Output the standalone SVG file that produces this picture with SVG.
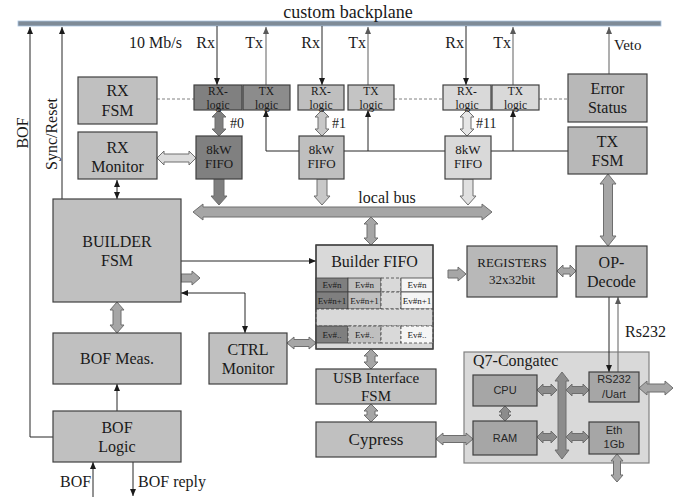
<svg xmlns="http://www.w3.org/2000/svg" width="683" height="497" viewBox="0 0 683 497">
<defs>
<style>
.bx{stroke:#404040;stroke-width:1.2}
.t{font-family:"Liberation Serif","Times New Roman",serif;fill:#1a1a1a;text-anchor:middle}
.s{font-family:"Liberation Sans",Arial,sans-serif;fill:#262626;text-anchor:middle;font-size:11px}
.ln{fill:none;stroke:#262626;stroke-width:1}
.lg{fill:none;stroke:#7a7a7a;stroke-width:1.2}
.dash{fill:none;stroke:#808080;stroke-width:1;stroke-dasharray:3,2}
.fat{stroke:#6e6e6e;stroke-width:1;stroke-linejoin:miter}
.g1{fill:#a6a6a6}
.cell{stroke:#404040;stroke-width:0.8}
.dc{stroke:#404040;stroke-width:0.8;stroke-dasharray:3,2}
.ev{font-family:"Liberation Serif","Times New Roman",serif;fill:#1a1a1a;text-anchor:middle;font-size:9px}
.lt{font-size:11.5px}
</style>
<marker id="ah" viewBox="0 0 7 7" refX="7" refY="3.5" markerWidth="7" markerHeight="7" markerUnits="userSpaceOnUse" orient="auto-start-reverse"><path d="M0,0.5 L7,3.5 L0,6.5z" fill="#1a1a1a"/></marker>
<marker id="ahg" viewBox="0 0 7 7" refX="7" refY="3.5" markerWidth="7" markerHeight="7" markerUnits="userSpaceOnUse" orient="auto-start-reverse"><path d="M0,0.5 L7,3.5 L0,6.5z" fill="#595959"/></marker>
</defs>
<rect width="683" height="497" fill="#ffffff"/>

<g id="backplane">
<rect x="18" y="21" width="643" height="5" fill="#7f8b97" stroke="#a9c4e0" stroke-width="0.8"/>
<text class="t" x="348" y="18" font-size="18">custom backplane</text>
</g>

<g id="q7-congatec">
<rect x="464" y="352" width="185" height="111" fill="#d9d9d9" stroke="#808080" stroke-width="1.2"/>
<text class="t" font-size="16" x="473" y="366" style="text-anchor:start">Q7-Congatec</text>
</g>

<g id="connectors">
<path class="ln" d="M53,437 H30 V27" marker-end="url(#ah)"/>
<path class="ln" d="M62,199 V27" marker-end="url(#ah)"/>
<path class="ln" d="M217,26 V85" marker-end="url(#ah)"/>
<path class="lg" d="M266,85 V27" marker-end="url(#ahg)"/>
<path class="ln" d="M322,26 V85" marker-end="url(#ah)"/>
<path class="lg" d="M368,85 V27" marker-end="url(#ahg)"/>
<path class="ln" d="M466,26 V85" marker-end="url(#ah)"/>
<path class="lg" d="M513,85 V27" marker-end="url(#ahg)"/>
<path class="lg" d="M609,74 V27" marker-end="url(#ahg)"/>
<path class="dash" d="M157,99 H194 M394,99 H443 M539,99 H568"/>
<path class="ln" d="M117,180 V199" marker-start="url(#ah)" marker-end="url(#ah)"/>
<path class="ln" d="M568,151 H266"/>
<path class="ln" d="M266,151 V110" marker-end="url(#ah)"/>
<path class="ln" d="M368,151 V110" marker-end="url(#ah)"/>
<path class="ln" d="M513,151 V110" marker-end="url(#ah)"/>
<path class="ln" d="M181,261 H316" marker-end="url(#ah)"/>
<path class="ln" d="M181,293 H245 V333" marker-start="url(#ah)" marker-end="url(#ah)"/>
<path class="ln" d="M117,411 V384" marker-end="url(#ah)"/>
<path class="ln" d="M93,497 V462" marker-end="url(#ah)"/>
<path class="ln" d="M133,462 V496" marker-end="url(#ah)"/>
<path class="ln" d="M609,297 V372" marker-end="url(#ah)"/>
<path class="lg" d="M618,372 V297" marker-end="url(#ahg)"/>

<polygon class="fat" fill="#dcdcdc" points="157,158 164,151 164,154 189,154 189,151 196,158 189,165 189,162 164,162 164,165"/>
<polygon class="fat" fill="#7f7f7f" points="219,110 226,117 223,117 223,129 226,129 219,136 212,129 215,129 215,117 212,117"/>
<polygon class="fat" fill="#c8c8c8" points="322,110 329,117 326,117 326,129 329,129 322,136 315,129 318,129 318,117 315,117"/>
<polygon class="fat" fill="#e6e6e6" points="467,110 474,117 471,117 471,129 474,129 467,136 460,129 463,129 463,117 460,117"/>
<polygon class="fat" fill="#7f7f7f" points="214,179 224,179 224,196 227,196 219,205 211,196 214,196"/>
<polygon class="fat" fill="#c8c8c8" points="317,179 327,179 327,196 330,196 322,205 314,196 317,196"/>
<polygon class="fat" fill="#e0e0e0" points="463,179 473,179 473,196 476,196 468,205 460,196 463,196"/>
<polygon class="fat g1" points="193,212 203,204 203,207 482,207 482,204 492,212 482,220 482,217 203,217 203,220"/>
<polygon class="fat g1" points="371,217 378,224 375,224 375,238 378,238 371,245 364,238 367,238 367,224 364,224"/>
<polygon class="fat g1" points="608,174 616,184 612.5,184 612.5,236 616,236 608,246 600,236 603.5,236 603.5,184 600,184"/>
<polygon class="fat g1" points="181,274 192,274 192,271 200,278 192,285 192,282 181,282"/>
<polygon class="fat g1" points="448,270 458,270 458,267 466,274 458,281 458,278 448,278"/>
<polygon class="fat g1" points="557,271 563,265 563,268 570,268 570,265 576,271 570,277 570,274 563,274 563,277"/>
<polygon class="fat g1" points="117,302 124,310 121,310 121,325 124,325 117,333 110,325 113,325 113,310 110,310"/>
<polygon class="fat g1" points="287,343 294,337 294,339.5 309,339.5 309,337 316,343 309,349 309,346.5 294,346.5 294,349"/>
<polygon class="fat g1" points="371,349 378,356 375,356 375,362 378,362 371,369 364,362 367,362 367,356 364,356"/>
<polygon class="fat g1" points="371,404 378,411 375,411 375,415 378,415 371,422 364,415 367,415 367,411 364,411"/>
<polygon class="fat g1" points="436,439 443,433 443,435.5 466,435.5 466,433 473,439 466,445 466,442.5 443,442.5 443,445"/>
<polygon class="fat" fill="#8c8c8c" points="505,406 511,412 508.5,412 508.5,415 511,415 505,421 499,415 501.5,415 501.5,412 499,412"/>
<polygon class="fat" fill="#8c8c8c" points="562,372 569,381 566,381 566,450 569,450 562,459 555,450 558,450 558,381 555,381"/>
<polygon class="fat" fill="#8c8c8c" points="537,390 543,384 543,386.5 551,386.5 551,384 557,390 551,396 551,393.5 543,393.5 543,396"/>
<polygon class="fat" fill="#8c8c8c" points="537,437 543,431 543,433.5 551,433.5 551,431 557,437 551,443 551,440.5 543,440.5 543,443"/>
<polygon class="fat" fill="#8c8c8c" points="566,390 572,384 572,386.5 583,386.5 583,384 589,390 583,396 583,393.5 572,393.5 572,396"/>
<polygon class="fat" fill="#8c8c8c" points="566,437 572,431 572,433.5 583,433.5 583,431 589,437 583,443 583,440.5 572,440.5 572,443"/>
<polygon class="fat g1" points="639,388 647,381 647,384 665,384 665,381 673,388 665,395 665,392 647,392 647,395"/>
<polygon class="fat g1" points="617,454 623,461 620.5,461 620.5,475 623,475 617,482 611,475 613.5,475 613.5,461 611,461"/>
</g>

<g id="labels">
<text class="t" font-size="16" transform="translate(27.5,133) rotate(-90)">BOF</text>
<text class="t" font-size="16" transform="translate(57,134) rotate(-90)">Sync/Reset</text>
<text class="t" font-size="16" x="129" y="48" style="text-anchor:start">10 Mb/s</text>
<text class="t" font-size="16" x="215" y="48" style="text-anchor:end">Rx</text>
<text class="t" font-size="16" x="263" y="48" style="text-anchor:end">Tx</text>
<text class="t" font-size="16" x="320" y="48" style="text-anchor:end">Rx</text>
<text class="t" font-size="16" x="366" y="48" style="text-anchor:end">Tx</text>
<text class="t" font-size="16" x="464" y="48" style="text-anchor:end">Rx</text>
<text class="t" font-size="16" x="511" y="48" style="text-anchor:end">Tx</text>
<text class="t" font-size="15" x="614" y="50" style="text-anchor:start">Veto</text>
<text class="t" font-size="14" x="230" y="128" style="text-anchor:start">#0</text>
<text class="t" font-size="14" x="332" y="128" style="text-anchor:start">#1</text>
<text class="t" font-size="14" x="476" y="128" style="text-anchor:start">#11</text>
<text class="t" font-size="16" x="387" y="203">local bus</text>
<text class="t" font-size="16" x="625" y="337" style="text-anchor:start">Rs232</text>
<text class="t" font-size="16" x="60" y="487" style="text-anchor:start">BOF</text>
<text class="t" font-size="16" x="138" y="487" style="text-anchor:start">BOF reply</text>
</g>

<g id="rx-fsm"><rect class="bx" x="78" y="77" width="79" height="47" fill="#c0c0c0"/><text class="t" font-size="16" x="117.5" y="96">RX</text><text class="t" font-size="16" x="117.5" y="116">FSM</text></g>
<g id="rx-monitor"><rect class="bx" x="78" y="132" width="79" height="47" fill="#c0c0c0"/><text class="t" font-size="16" x="117.5" y="153">RX</text><text class="t" font-size="16" x="117.5" y="172">Monitor</text></g>

<g id="rx-logic-0"><rect class="bx" x="194" y="85" width="48" height="25" fill="#808080"/><text class="t lt" x="218" y="95">RX-</text><text class="t lt" x="218" y="108.5">logic</text></g>
<g id="tx-logic-0"><rect class="bx" x="243" y="85" width="47" height="25" fill="#8c8c8c"/><text class="t lt" x="266.5" y="95">TX</text><text class="t lt" x="266.5" y="108.5">logic</text></g>
<g id="fifo-0"><rect class="bx" x="196" y="136" width="46" height="43" fill="#808080"/><text class="t" font-size="13" x="219" y="154">8kW</text><text class="t" font-size="13" x="219" y="168">FIFO</text></g>

<g id="rx-logic-1"><rect class="bx" x="298" y="85" width="46" height="25" fill="#bfbfbf"/><text class="t lt" x="321" y="95">RX-</text><text class="t lt" x="321" y="108.5">logic</text></g>
<g id="tx-logic-1"><rect class="bx" x="348" y="85" width="46" height="25" fill="#c4c4c4"/><text class="t lt" x="371" y="95">TX</text><text class="t lt" x="371" y="108.5">logic</text></g>
<g id="fifo-1"><rect class="bx" x="299" y="136" width="45" height="43" fill="#bfbfbf"/><text class="t" font-size="13" x="321.5" y="154">8kW</text><text class="t" font-size="13" x="321.5" y="168">FIFO</text></g>

<g id="rx-logic-11"><rect class="bx" x="443" y="85" width="48" height="25" fill="#d9d9d9"/><text class="t lt" x="467" y="95">RX-</text><text class="t lt" x="467" y="108.5">logic</text></g>
<g id="tx-logic-11"><rect class="bx" x="492" y="85" width="47" height="25" fill="#d9d9d9"/><text class="t lt" x="515.5" y="95">TX</text><text class="t lt" x="515.5" y="108.5">logic</text></g>
<g id="fifo-11"><rect class="bx" x="445" y="136" width="46" height="43" fill="#d9d9d9"/><text class="t" font-size="13" x="468" y="154">8kW</text><text class="t" font-size="13" x="468" y="168">FIFO</text></g>

<g id="error-status"><rect class="bx" x="568" y="74" width="79" height="48" fill="#b8b8b8"/><text class="t" font-size="16" x="607.5" y="94">Error</text><text class="t" font-size="16" x="607.5" y="113">Status</text></g>
<g id="tx-fsm"><rect class="bx" x="568" y="127" width="79" height="47" fill="#b8b8b8"/><text class="t" font-size="16" x="607.5" y="147">TX</text><text class="t" font-size="16" x="607.5" y="166">FSM</text></g>

<g id="builder-fsm"><rect class="bx" x="53" y="199" width="128" height="103" fill="#c0c0c0"/><text class="t" font-size="16" x="117" y="247">BUILDER</text><text class="t" font-size="16" x="117" y="266">FSM</text></g>
<g id="bof-meas"><rect class="bx" x="53" y="333" width="128" height="51" fill="#c0c0c0"/><text class="t" font-size="16" x="117" y="364">BOF Meas.</text></g>
<g id="bof-logic"><rect class="bx" x="53" y="411" width="128" height="51" fill="#c0c0c0"/><text class="t" font-size="16" x="117" y="433">BOF</text><text class="t" font-size="16" x="117" y="452">Logic</text></g>
<g id="ctrl-monitor"><rect class="bx" x="209" y="333" width="78" height="51" fill="#c0c0c0"/><text class="t" font-size="16" x="248" y="355">CTRL</text><text class="t" font-size="16" x="248" y="374">Monitor</text></g>

<g id="builder-fifo">
<rect class="bx" x="316" y="245" width="117" height="104" fill="#d9d9d9"/>
<text class="t" font-size="16" x="374.5" y="267">Builder FIFO</text>
<rect class="cell" x="316" y="278" width="32" height="14" fill="#7f7f7f"/>
<rect class="cell" x="348" y="278" width="33" height="14" fill="#bfbfbf"/>
<rect class="dc" x="381" y="278" width="20" height="14" fill="#d9d9d9"/>
<rect class="cell" x="401" y="278" width="32" height="14" fill="#f5f5f5"/>
<rect class="cell" x="316" y="292" width="32" height="17" fill="#7f7f7f"/>
<rect class="cell" x="348" y="292" width="33" height="17" fill="#bfbfbf"/>
<rect class="dc" x="381" y="292" width="20" height="17" fill="#d9d9d9"/>
<rect class="cell" x="401" y="292" width="32" height="17" fill="#f5f5f5"/>
<rect class="dc" x="316" y="309" width="117" height="17" fill="#d9d9d9"/>
<rect class="cell" x="316" y="326" width="32" height="17" fill="#7f7f7f"/>
<rect class="dc" x="348" y="326" width="33" height="17" fill="#bfbfbf"/>
<rect class="dc" x="381" y="326" width="20" height="17" fill="#d9d9d9"/>
<rect class="dc" x="401" y="326" width="32" height="17" fill="#f5f5f5"/>
<text class="ev" x="332" y="288">Ev#n</text><text class="ev" x="364.5" y="288">Ev#n</text><text class="ev" x="417" y="288">Ev#n</text>
<text class="ev" x="332" y="304">Ev#n+1</text><text class="ev" x="364.5" y="304">Ev#n+1</text><text class="ev" x="417" y="304">Ev#n+1</text>
<text class="ev" x="332" y="338">Ev#..</text><text class="ev" x="364.5" y="338">Ev#..</text><text class="ev" x="417" y="338">Ev#..</text>
<rect x="316" y="245" width="117" height="104" fill="none" stroke="#404040" stroke-width="1.2"/>
</g>

<g id="registers"><rect class="bx" x="467" y="246" width="90" height="51" fill="#b8b8b8"/><text class="t" font-size="13" x="512" y="267">REGISTERS</text><text class="t" font-size="13" x="512" y="284">32x32bit</text></g>
<g id="op-decode"><rect class="bx" x="576" y="246" width="71" height="51" fill="#b8b8b8"/><text class="t" font-size="16" x="611.5" y="268">OP-</text><text class="t" font-size="16" x="611.5" y="287">Decode</text></g>

<g id="usb-interface"><rect class="bx" x="316" y="369" width="120" height="35" fill="#c0c0c0"/><text class="t" font-size="15" x="376" y="383">USB Interface</text><text class="t" font-size="15" x="376" y="401">FSM</text></g>
<g id="cypress"><rect class="bx" x="316" y="422" width="120" height="35" fill="#c0c0c0"/><text class="t" font-size="17" x="376" y="445">Cypress</text></g>

<g id="cpu"><rect class="bx" x="473" y="375" width="64" height="31" fill="#a6a6a6"/><text class="s" x="505" y="394">CPU</text></g>
<g id="ram"><rect class="bx" x="473" y="421" width="64" height="34" fill="#a6a6a6"/><text class="s" x="505" y="442">RAM</text></g>
<g id="rs232-uart"><rect class="bx" x="589" y="372" width="50" height="30" fill="#a6a6a6"/><text class="s" x="614" y="383">RS232</text><text class="s" x="614" y="398">/Uart</text></g>
<g id="eth-1gb"><rect class="bx" x="589" y="422" width="50" height="32" fill="#a6a6a6"/><text class="s" x="614" y="434">Eth</text><text class="s" x="614" y="448">1Gb</text></g>
</svg>
